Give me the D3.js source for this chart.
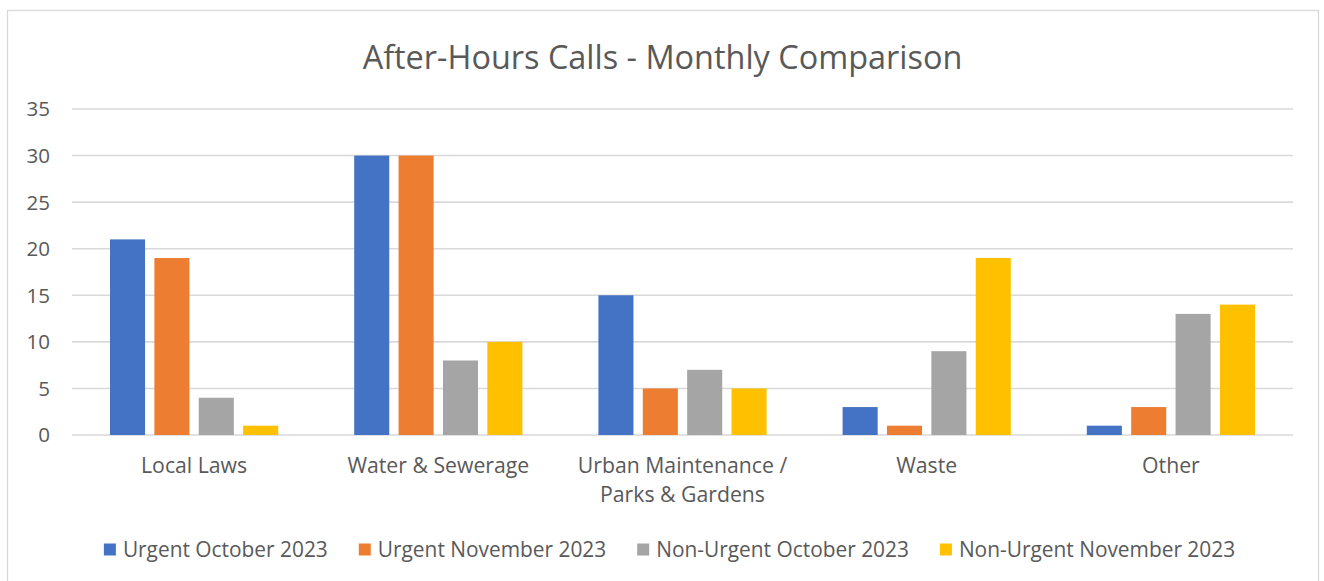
<!DOCTYPE html>
<html><head><meta charset="utf-8">
<script src="https://cdn.jsdelivr.net/npm/d3@7"></script>
<style>body{margin:0;background:#fff}text{font-family:"Open Sans",sans-serif;fill:#595959}</style>
</head><body><svg id="c" width="1324" height="581"></svg>
<script>
const categories = ["Local Laws", "Water & Sewerage", "Urban Maintenance /\nParks & Gardens", "Waste", "Other"];
const seriesNames = ["Urgent October 2023", "Urgent November 2023", "Non-Urgent October 2023", "Non-Urgent November 2023"];
const urgentOct = [21, 30, 15, 3, 1];
const urgentNov = [19, 30, 5, 1, 3];
const nonUrgentOct = [4, 8, 7, 9, 13];
const nonUrgentNov = [1, 10, 5, 19, 14];
const yTicks = [0, 5, 10, 15, 20, 25, 30, 35];
const colors = ["#4472C4", "#ED7D31", "#A5A5A5", "#FFC000"];
const title = "After-Hours Calls - Monthly Comparison";

const series = [urgentOct, urgentNov, nonUrgentOct, nonUrgentNov];
const svg = d3.select("#c");

function fit(sel, target) {
  const w = sel.node().getComputedTextLength();
  const s = parseFloat(sel.attr("font-size"));
  sel.attr("font-size", s * target / w);
}

svg.append("rect").attr("x", 7.5).attr("y", 10.5).attr("width", 1311).attr("height", 590)
  .attr("fill", "#fff").attr("stroke", "#D9D9D9").attr("stroke-width", 1.3);

const m = {left: 72, right: 1293, top: 109, bottom: 435};
const x0 = d3.scaleBand().domain(d3.range(categories.length)).range([m.left, m.right]);
const outer = 38;
const x1 = d3.scaleBand().domain(d3.range(series.length)).range([outer, x0.bandwidth() - outer]).paddingInner(0.21);
const y = d3.scaleLinear().domain([0, 35]).range([m.bottom, m.top]);

// gridlines
svg.append("g").selectAll("line").data(yTicks).join("line")
  .attr("x1", m.left).attr("x2", m.right)
  .attr("y1", d => y(d)).attr("y2", d => y(d))
  .attr("stroke", "#D9D9D9").attr("stroke-width", 1.6);

// y tick labels
const yl = svg.append("g");
yl.selectAll("text").data(yTicks).join("text")
  .attr("x", 50).attr("y", d => y(d)).attr("dy", "0.36em")
  .attr("text-anchor", "end").attr("font-size", 18).text(d => d);
const tickSel = yl.selectAll("text").filter(d => d === 35);
const ts = 18 * 23.5 / tickSel.node().getComputedTextLength();
yl.selectAll("text").attr("font-size", ts);

// bars
const g = svg.append("g");
series.forEach((vals, si) => {
  g.append("g").selectAll("rect").data(vals).join("rect")
    .attr("x", (d, i) => x0(i) + x1(si))
    .attr("width", x1.bandwidth())
    .attr("y", d => y(d))
    .attr("height", d => y(0) - y(d))
    .attr("fill", colors[si]);
});

// category labels
const cl = svg.append("g");
categories.forEach((c, i) => {
  const t = cl.append("text").attr("x", x0(i) + x0.bandwidth() / 2).attr("y", 473)
    .attr("text-anchor", "middle").attr("font-size", 18);
  c.split("\n").forEach((line, li) => {
    t.append("tspan").attr("x", x0(i) + x0.bandwidth() / 2).attr("dy", li ? 29 : 0).text(line);
  });
});
fit(cl.select("text:nth-child(2)"), 182);
const catSize = cl.select("text:nth-child(2)").attr("font-size");
cl.selectAll("text").attr("font-size", catSize);

// title
const tt = svg.append("text").attr("x", 662.5).attr("y", 69).attr("text-anchor", "middle")
  .attr("font-size", 28).text(title);
fit(tt, 600);

// legend
const lg = svg.append("g");
const items = seriesNames.map((n, i) => {
  const it = lg.append("g");
  it.append("rect").attr("width", 12).attr("height", 12).attr("y", -6).attr("fill", colors[i]);
  const t = it.append("text").attr("x", 19).attr("dy", "0.35em").attr("font-size", 18).text(n);
  return {it, t};
});
const s0 = 18 * 205 / items[0].t.node().getComputedTextLength();
items.forEach(d => d.t.attr("font-size", s0));
let xs = 0;
const pos = items.map(d => { const p = xs; xs += 19 + d.t.node().getComputedTextLength() + 31; return p; });
const total = xs - 31;
const lx = 669.5 - total / 2;
items.forEach((d, i) => d.it.attr("transform", `translate(${lx + pos[i]},549.5)`));
</script></body></html>
